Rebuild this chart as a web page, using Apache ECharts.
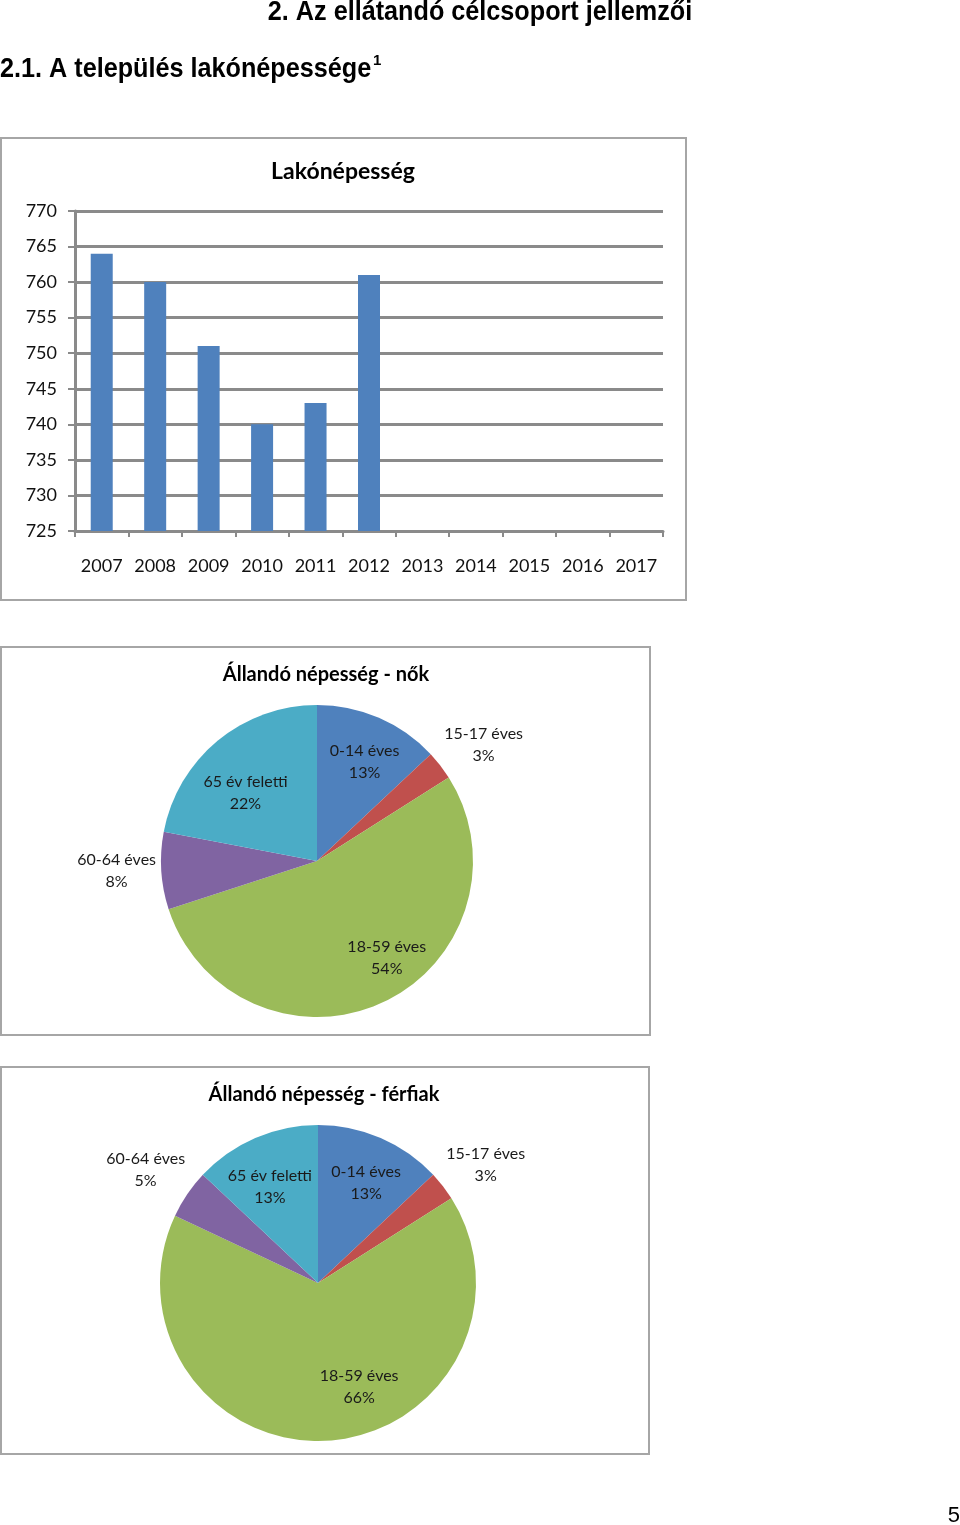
<!DOCTYPE html>
<html>
<head>
<meta charset="utf-8">
<script src="https://cdn.jsdelivr.net/npm/echarts@6/dist/echarts.min.js"></script>
<style>
  html, body { margin: 0; padding: 0; background: #fff; }
  #chart { width: 960px; height: 1525px; }
</style>
</head>
<body>
<div id="chart"></div>
<script>
// ---- Data ----
const years = ['2007','2008','2009','2010','2011','2012','2013','2014','2015','2016','2017'];
const lakonepesseg = [764, 760, 751, 740, 743, 761, null, null, null, null, null];
const yTickMin = 725;
const yTickMax = 770;
const yTickStep = 5;

const ageGroups = ['0-14 éves', '15-17 éves', '18-59 éves', '60-64 éves', '65 év feletti'];
const nokPct = [13, 3, 54, 8, 22];
const ferfiakPct = [13, 3, 66, 5, 13];
const outsideLabels = [1, 3];

const heading1 = '2. Az ellátandó célcsoport jellemzői';
const heading2 = '2.1. A település lakónépessége';
const barTitle = 'Lakónépesség';
const pieTitle1 = 'Állandó népesség - nők';
const pieTitle2 = 'Állandó népesség - férfiak';
const pageNo = '5';

// ---- Styles ----
const pieColors = ['#4F81BD', '#C0504D', '#9BBB59', '#8064A2', '#4BACC6'];
const lblFont = 'Lato, "Open Sans", sans-serif';
const gridGray = '#8a8a8a';
const boxGray = '#a6a6a6';

// small label nudges (Excel "best fit" placement)
const nokLabelOffsets = [[3, 4], [4, 10], [22, -5], [5, -3], [0, 18]];
const ferfiakLabelOffsets = [[3, 4], [3, 10], [34, -10], [0, 4], [-3, 8]];

function pieSeries(values, center, r, offsets) {
  const base = ageGroups.map((n, i) => ({ name: n, value: values[i] }));
  const main = {
    type: 'pie', center: center, radius: [0, r], startAngle: 90, clockwise: true,
    silent: true, label: { show: false }, labelLine: { show: false },
    itemStyle: { borderWidth: 0 },
    color: pieColors,
    data: base
  };
  const labelStyle = {
    fontFamily: lblFont, fontSize: 16, lineHeight: 22, color: '#1a1a1a',
    formatter: '{b}\n{d}%', position: 'inside'
  };
  const mk = (showOutside) => ({
    type: 'pie', center: center,
    radius: showOutside ? [r * 1.1, r * 1.5] : [r * 0.4, r],
    startAngle: 90, clockwise: true,
    silent: true, labelLine: { show: false }, emphasis: { disabled: true },
    itemStyle: { color: 'rgba(0,0,0,0)', borderWidth: 0 },
    label: Object.assign({ show: true }, labelStyle),
    data: base.map((d, i) => Object.assign({}, d, {
      label: { show: (outsideLabels.indexOf(i) >= 0) === showOutside, offset: offsets[i] }
    }))
  });
  return [main, mk(false), mk(true)];
}

const chart = echarts.init(document.getElementById('chart'), null, { renderer: 'canvas' });

const option = {
  animation: false,
  backgroundColor: '#fff',
  title: [
    { text: barTitle, left: 338, top: 155, textAlign: 'center',
      textStyle: { fontFamily: lblFont, fontWeight: 'bold', fontSize: 23, color: '#000' } },
    { text: pieTitle1, left: 321, top: 660, textAlign: 'center',
      textStyle: { fontFamily: lblFont, fontWeight: 'bold', fontSize: 20, color: '#000' } },
    { text: pieTitle2, left: 319, top: 1080, textAlign: 'center',
      textStyle: { fontFamily: lblFont, fontWeight: 'bold', fontSize: 20, color: '#000' } }
  ],
  grid: { left: 75, top: 211, width: 588, height: 320, containLabel: false },
  xAxis: {
    type: 'category', data: years, boundaryGap: true,
    axisLine: { show: true, lineStyle: { color: gridGray, width: 3 } },
    axisTick: { show: true, alignWithLabel: false, length: 6, lineStyle: { color: gridGray, width: 2 } },
    axisLabel: { fontFamily: lblFont, fontSize: 18, color: '#111', margin: 26, interval: 0 },
    splitLine: { show: false }
  },
  yAxis: {
    type: 'value', min: yTickMin, max: yTickMax, interval: yTickStep,
    axisLine: { show: true, lineStyle: { color: gridGray, width: 3 } },
    axisTick: { show: true, length: 7, lineStyle: { color: gridGray, width: 2 } },
    axisLabel: { fontFamily: lblFont, fontSize: 18, color: '#111', margin: 18 },
    splitLine: { show: true, lineStyle: { color: gridGray, width: 3 } }
  },
  series: [
    { type: 'bar', data: lakonepesseg, barWidth: 22, itemStyle: { color: '#4F81BD' }, silent: true, z: 3 }
  ].concat(pieSeries(nokPct, [317, 861], 156, nokLabelOffsets))
   .concat(pieSeries(ferfiakPct, [318, 1283], 158, ferfiakLabelOffsets)),
  graphic: [
    { type: 'rect', shape: { x: 1, y: 138, width: 685, height: 462 }, style: { fill: 'none', stroke: boxGray, lineWidth: 2 }, z: -1 },
    { type: 'rect', shape: { x: 1, y: 647, width: 649, height: 388 }, style: { fill: 'none', stroke: boxGray, lineWidth: 2 }, z: -1 },
    { type: 'rect', shape: { x: 1, y: 1067, width: 648, height: 387 }, style: { fill: 'none', stroke: boxGray, lineWidth: 2 }, z: -1 },
    { type: 'text', x: 480, y: 12, scaleX: 0.9,
      style: { text: heading1, font: 'bold 28px "Liberation Sans", Arial, sans-serif', fill: '#000', textAlign: 'center', textVerticalAlign: 'middle' } },
    { type: 'text', x: 0, y: 69, scaleX: 0.9,
      style: { text: heading2, font: 'bold 28px "Liberation Sans", Arial, sans-serif', fill: '#000', textAlign: 'left', textVerticalAlign: 'middle' } },
    { type: 'text', x: 373, y: 61,
      style: { text: '1', font: 'bold 15px "Liberation Sans", Arial, sans-serif', fill: '#000', textAlign: 'left', textVerticalAlign: 'middle' } },
    { type: 'text', x: 960, y: 1516,
      style: { text: pageNo, font: '22px "Liberation Sans", Arial, sans-serif', fill: '#000', textAlign: 'right', textVerticalAlign: 'middle' } }
  ]
};

chart.setOption(option);
</script>
</body>
</html>
